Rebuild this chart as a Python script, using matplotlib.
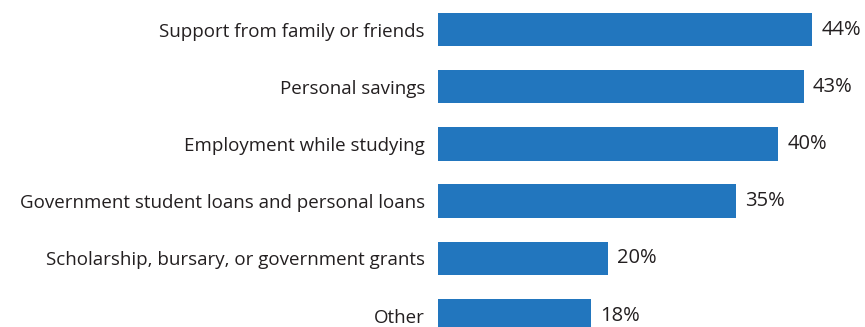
import matplotlib
matplotlib.use("Agg")
import matplotlib.pyplot as plt

sources = [
    "Support from family or friends",
    "Personal savings",
    "Employment while studying",
    "Government student loans and personal loans",
    "Scholarship, bursary, or government grants",
    "Other",
]
shares = [44, 43, 40, 35, 20, 18]

plt.rcParams['font.family'] = ['Open Sans', 'DejaVu Sans']
text_col = '#231f20'
bar_col = '#2276be'

fig = plt.figure(figsize=(8.65, 3.27), dpi=100)
ax = fig.add_axes([438 / 865, 0, 1 - 438 / 865, 1])

pos = list(range(len(sources)))
ax.barh(pos, shares, height=0.585, color=bar_col)
for y, v in zip(pos, shares):
    ax.text(v + 1.05, y, f"{v}%", va='center', ha='left', fontsize=14.5, color=text_col)

ax.set_xlim(0, 50.2)
ax.set_ylim(5.2, -0.516)
ax.set_yticks(pos)
ax.set_yticklabels(sources, fontsize=13.5, color=text_col)
ax.tick_params(axis='y', length=0, pad=9.4)
ax.set_xticks([])
for s in ax.spines.values():
    s.set_visible(False)

fig.savefig("out.png", dpi=100)
